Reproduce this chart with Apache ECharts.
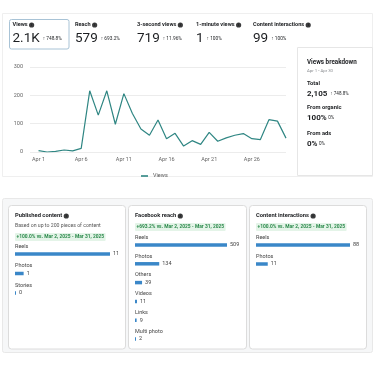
<!DOCTYPE html>
<html><head><meta charset="utf-8">
<script src="https://cdn.jsdelivr.net/npm/echarts@6/dist/echarts.min.js"></script>
<style>html,body{margin:0;padding:0;background:#fff}#c{width:375px;height:375px}</style>
</head><body><div id="c"></div>
<script>
// ---- data ----
const kpiTitles = ['Views', 'Reach', '3-second views', '1-minute views', 'Content interactions'];
const kpiValues = ['2.1K', '579', '719', '1', '99'];
const kpiChanges = ['748.8%', '693.2%', '11.96%', '100%', '100%'];

const viewDays = [1,2,3,4,5,6,7,8,9,10,11,12,13,14,15,16,17,18,19,20,21,22,23,24,25,26,27,28,29,30];
const viewValues = [5,0,2,7,4,13,216,130,216,98,206,136,81,59,113,47,66,21,40,27,69,38,50,59,65,47,44,114,109,49];
const xTickDays = [1,6,11,16,21,26];
const xTickLabels = ['Apr 1','Apr 6','Apr 11','Apr 16','Apr 21','Apr 26'];
const yTicks = [0,100,200,300];

const breakdownRange = 'Apr 1 - Apr 30';
const breakdownTotal = '2,105';
const breakdownTotalChange = '748.8%';
const breakdownOrganic = '100%';
const breakdownAds = '0%';

const pubCats = ['Reels', 'Photos', 'Stories'];
const pubVals = [11, 1, 0];
const reachCats = ['Reels', 'Photos', 'Others', 'Videos', 'Links', 'Multi photo'];
const reachVals = [509, 134, 39, 11, 9, 2];
const interCats = ['Reels', 'Photos'];
const interVals = [88, 11];

const cardTitles = ['Published content', 'Facebook reach', 'Content interactions'];
const cardChanges = ['+100.0% vs. Mar 2, 2025 - Mar 31, 2025', '+693.2% vs. Mar 2, 2025 - Mar 31, 2025', '+100.0% vs. Mar 2, 2025 - Mar 31, 2025'];
const pubNote = 'Based on up to 200 pieces of content';

// ---- styles ----
const FONT = 'Roboto, "Liberation Sans", sans-serif';
const DARK = '#1c1e21';
const GREEN = '#3a9c74';
const BAR = '#3a87c8';
const LINE = '#2f8683';

const infoRich = { i: { backgroundColor: '#3a3b3c', color: '#fff', borderRadius: 2.6, width: 5.2, height: 5.2, lineHeight: 5.2, align: 'center', fontSize: 4, fontWeight: 'bold', fontFamily: FONT } };

function txt(x, y, text, opt) {
  opt = opt || {};
  return { type: 'text', x: x, y: y, silent: true, z: 10,
    style: Object.assign({ text: text, fill: opt.color || DARK, fontSize: opt.size || 6, fontWeight: opt.weight || 'normal',
      fontFamily: FONT, verticalAlign: 'middle', align: 'left' }, opt.style || {}) };
}

const graphics = [];
// containers
graphics.push({ type: 'rect', shape: { x: 2.5, y: 13.5, width: 370, height: 163 }, style: { fill: 'none', stroke: '#efefef', lineWidth: 1 }, silent: true, z: 1 });
graphics.push({ type: 'rect', shape: { x: 297.5, y: 47.5, width: 75, height: 128 }, style: { fill: 'none', stroke: '#e6e6e6', lineWidth: 1 }, silent: true, z: 1 });
graphics.push({ type: 'rect', shape: { x: 2.5, y: 198.5, width: 370, height: 154, r: 2 }, style: { fill: '#f6f7f8', stroke: '#e8e8e8', lineWidth: 1 }, silent: true, z: 0 });
[[8.5,117],[128.5,118],[249.5,117]].forEach(function (c) {
  graphics.push({ type: 'rect', shape: { x: c[0], y: 205.5, width: c[1], height: 143.5, r: 3 }, style: { fill: '#fff', stroke: '#dcdcdc', lineWidth: 1 }, silent: true, z: 1 });
});
// Views KPI highlight
graphics.push({ type: 'rect', shape: { x: 9.5, y: 19.5, width: 59.5, height: 29.5, r: 2 }, style: { fill: 'none', stroke: '#a8c3d6', lineWidth: 1 }, silent: true, z: 2 });

// KPIs
const kpiX = [12.5, 75, 137, 196, 253];
kpiTitles.forEach(function (t, i) {
  graphics.push(txt(kpiX[i], 25, t + ' {i|i}', { weight: 'bold', size: 5.6, style: { rich: infoRich } }));
  graphics.push(txt(kpiX[i], 38.5, '{v|' + kpiValues[i] + '}  {c|↑ ' + kpiChanges[i] + '}', { style: { rich: {
    v: { fontSize: 13.5, color: DARK, fontFamily: FONT },
    c: { fontSize: 4.8, color: GREEN, fontFamily: FONT }
  } } }));
});

// Views breakdown
const bx = 307;
graphics.push(txt(bx, 62, 'Views breakdown', { weight: 'bold', size: 6.3 }));
graphics.push(txt(bx, 70.5, breakdownRange, { size: 4.3, color: '#8a8d91' }));
graphics.push(txt(bx, 84, 'Total', { weight: 'bold', size: 5.8 }));
graphics.push(txt(bx, 94, '{b|' + breakdownTotal + '}  {c|↑ ' + breakdownTotalChange + '}', { style: { rich: {
  b: { fontSize: 8, fontWeight: 'bold', color: DARK, fontFamily: FONT }, c: { fontSize: 4.6, color: GREEN, fontFamily: FONT } } } }));
graphics.push(txt(bx, 108, 'From organic', { weight: 'bold', size: 5.8 }));
graphics.push(txt(bx, 118, '{b|' + breakdownOrganic + '} {s|0%}', { style: { rich: {
  b: { fontSize: 8, fontWeight: 'bold', color: DARK, fontFamily: FONT }, s: { fontSize: 4.6, color: '#8a8d91', fontFamily: FONT } } } }));
graphics.push(txt(bx, 134, 'From ads', { weight: 'bold', size: 5.8 }));
graphics.push(txt(bx, 144, '{b|' + breakdownAds + '} {s|0%}', { style: { rich: {
  b: { fontSize: 8, fontWeight: 'bold', color: DARK, fontFamily: FONT }, s: { fontSize: 4.6, color: '#8a8d91', fontFamily: FONT } } } }));

// Card titles and pills
const cardX = [15, 135, 256];
const pillY = [237, 227, 227];
cardTitles.forEach(function (t, i) {
  graphics.push(txt(cardX[i], 216, t + ' {i|i}', { weight: 'bold', size: 5.8, style: { rich: infoRich } }));
  graphics.push(txt(cardX[i], pillY[i], cardChanges[i], { weight: 'bold', size: 4.9, color: '#2c8a4c',
    style: { backgroundColor: '#e4f4e8', padding: [1.5, 1.5, 1.5, 1.5], borderRadius: 1 } }));
});
graphics.push(txt(15, 226, pubNote, { size: 5.2, color: '#555' }));

// ---- chart ----
const chart = echarts.init(document.getElementById('c'), null, { renderer: 'canvas' });

function barAxes(idx, cats, vals) {
  return {
    x: { type: 'value', gridIndex: idx, min: 0, max: Math.max.apply(null, vals), show: false },
    y: { type: 'category', gridIndex: idx, data: cats, inverse: true, z: 20,
      axisLine: { show: false }, axisTick: { show: false }, splitLine: { show: false },
      axisLabel: { inside: true, margin: 0, interval: 0, verticalAlign: 'bottom', padding: [0, 0, 4.5, 0],
        fontSize: 5.5, color: '#444', fontFamily: FONT } }
  };
}
function barSeries(idx, vals) {
  return { type: 'bar', xAxisIndex: idx, yAxisIndex: idx, data: vals, barWidth: 3.5, barMinHeight: 1, silent: true, z: 20,
    itemStyle: { color: BAR }, label: { show: true, position: 'right', distance: 3, fontSize: 5.5, color: '#444', fontFamily: FONT } };
}
const a1 = barAxes(1, pubCats, pubVals), a2 = barAxes(2, reachCats, reachVals), a3 = barAxes(3, interCats, interVals);

chart.setOption({
  animation: false,
  backgroundColor: '#fff',
  textStyle: { fontFamily: FONT },
  graphic: graphics,
  legend: { data: ['Views'], left: 136, top: 168, itemWidth: 7, itemHeight: 1.6, icon: 'rect', itemGap: 4,
    textStyle: { fontSize: 5.5, color: '#555', fontFamily: FONT } },
  grid: [
    { left: 30, top: 67, width: 256, height: 85 },
    { left: 15, top: 244.25, width: 95, height: 58.5 },
    { left: 135, top: 235.6, width: 92, height: 112.8 },
    { left: 256, top: 235.5, width: 94, height: 38 }
  ],
  xAxis: [
    { type: 'value', gridIndex: 0, min: 0, max: 30, interval: 1,
      axisLine: { show: false }, axisTick: { show: false }, splitLine: { show: false },
      axisLabel: { fontSize: 5.5, color: '#666', margin: 5, fontFamily: FONT,
        formatter: function (v) { const k = xTickDays.indexOf(v); return k >= 0 ? xTickLabels[k] : ''; } } },
    a1.x, a2.x, a3.x
  ],
  yAxis: [
    { type: 'value', gridIndex: 0, min: yTicks[0], max: yTicks[yTicks.length - 1], interval: 100,
      axisLine: { show: false }, axisTick: { show: false },
      splitLine: { lineStyle: { color: '#ececec', width: 1 } },
      axisLabel: { fontSize: 5.5, color: '#666', margin: 7, fontFamily: FONT } },
    a1.y, a2.y, a3.y
  ],
  series: [
    { name: 'Views', type: 'line', xAxisIndex: 0, yAxisIndex: 0, showSymbol: false, symbol: 'none',
      data: viewDays.map(function (d, i) { return [d, viewValues[i]]; }),
      lineStyle: { color: LINE, width: 1.2 }, itemStyle: { color: LINE } },
    barSeries(1, pubVals), barSeries(2, reachVals), barSeries(3, interVals)
  ]
});
</script></body></html>
